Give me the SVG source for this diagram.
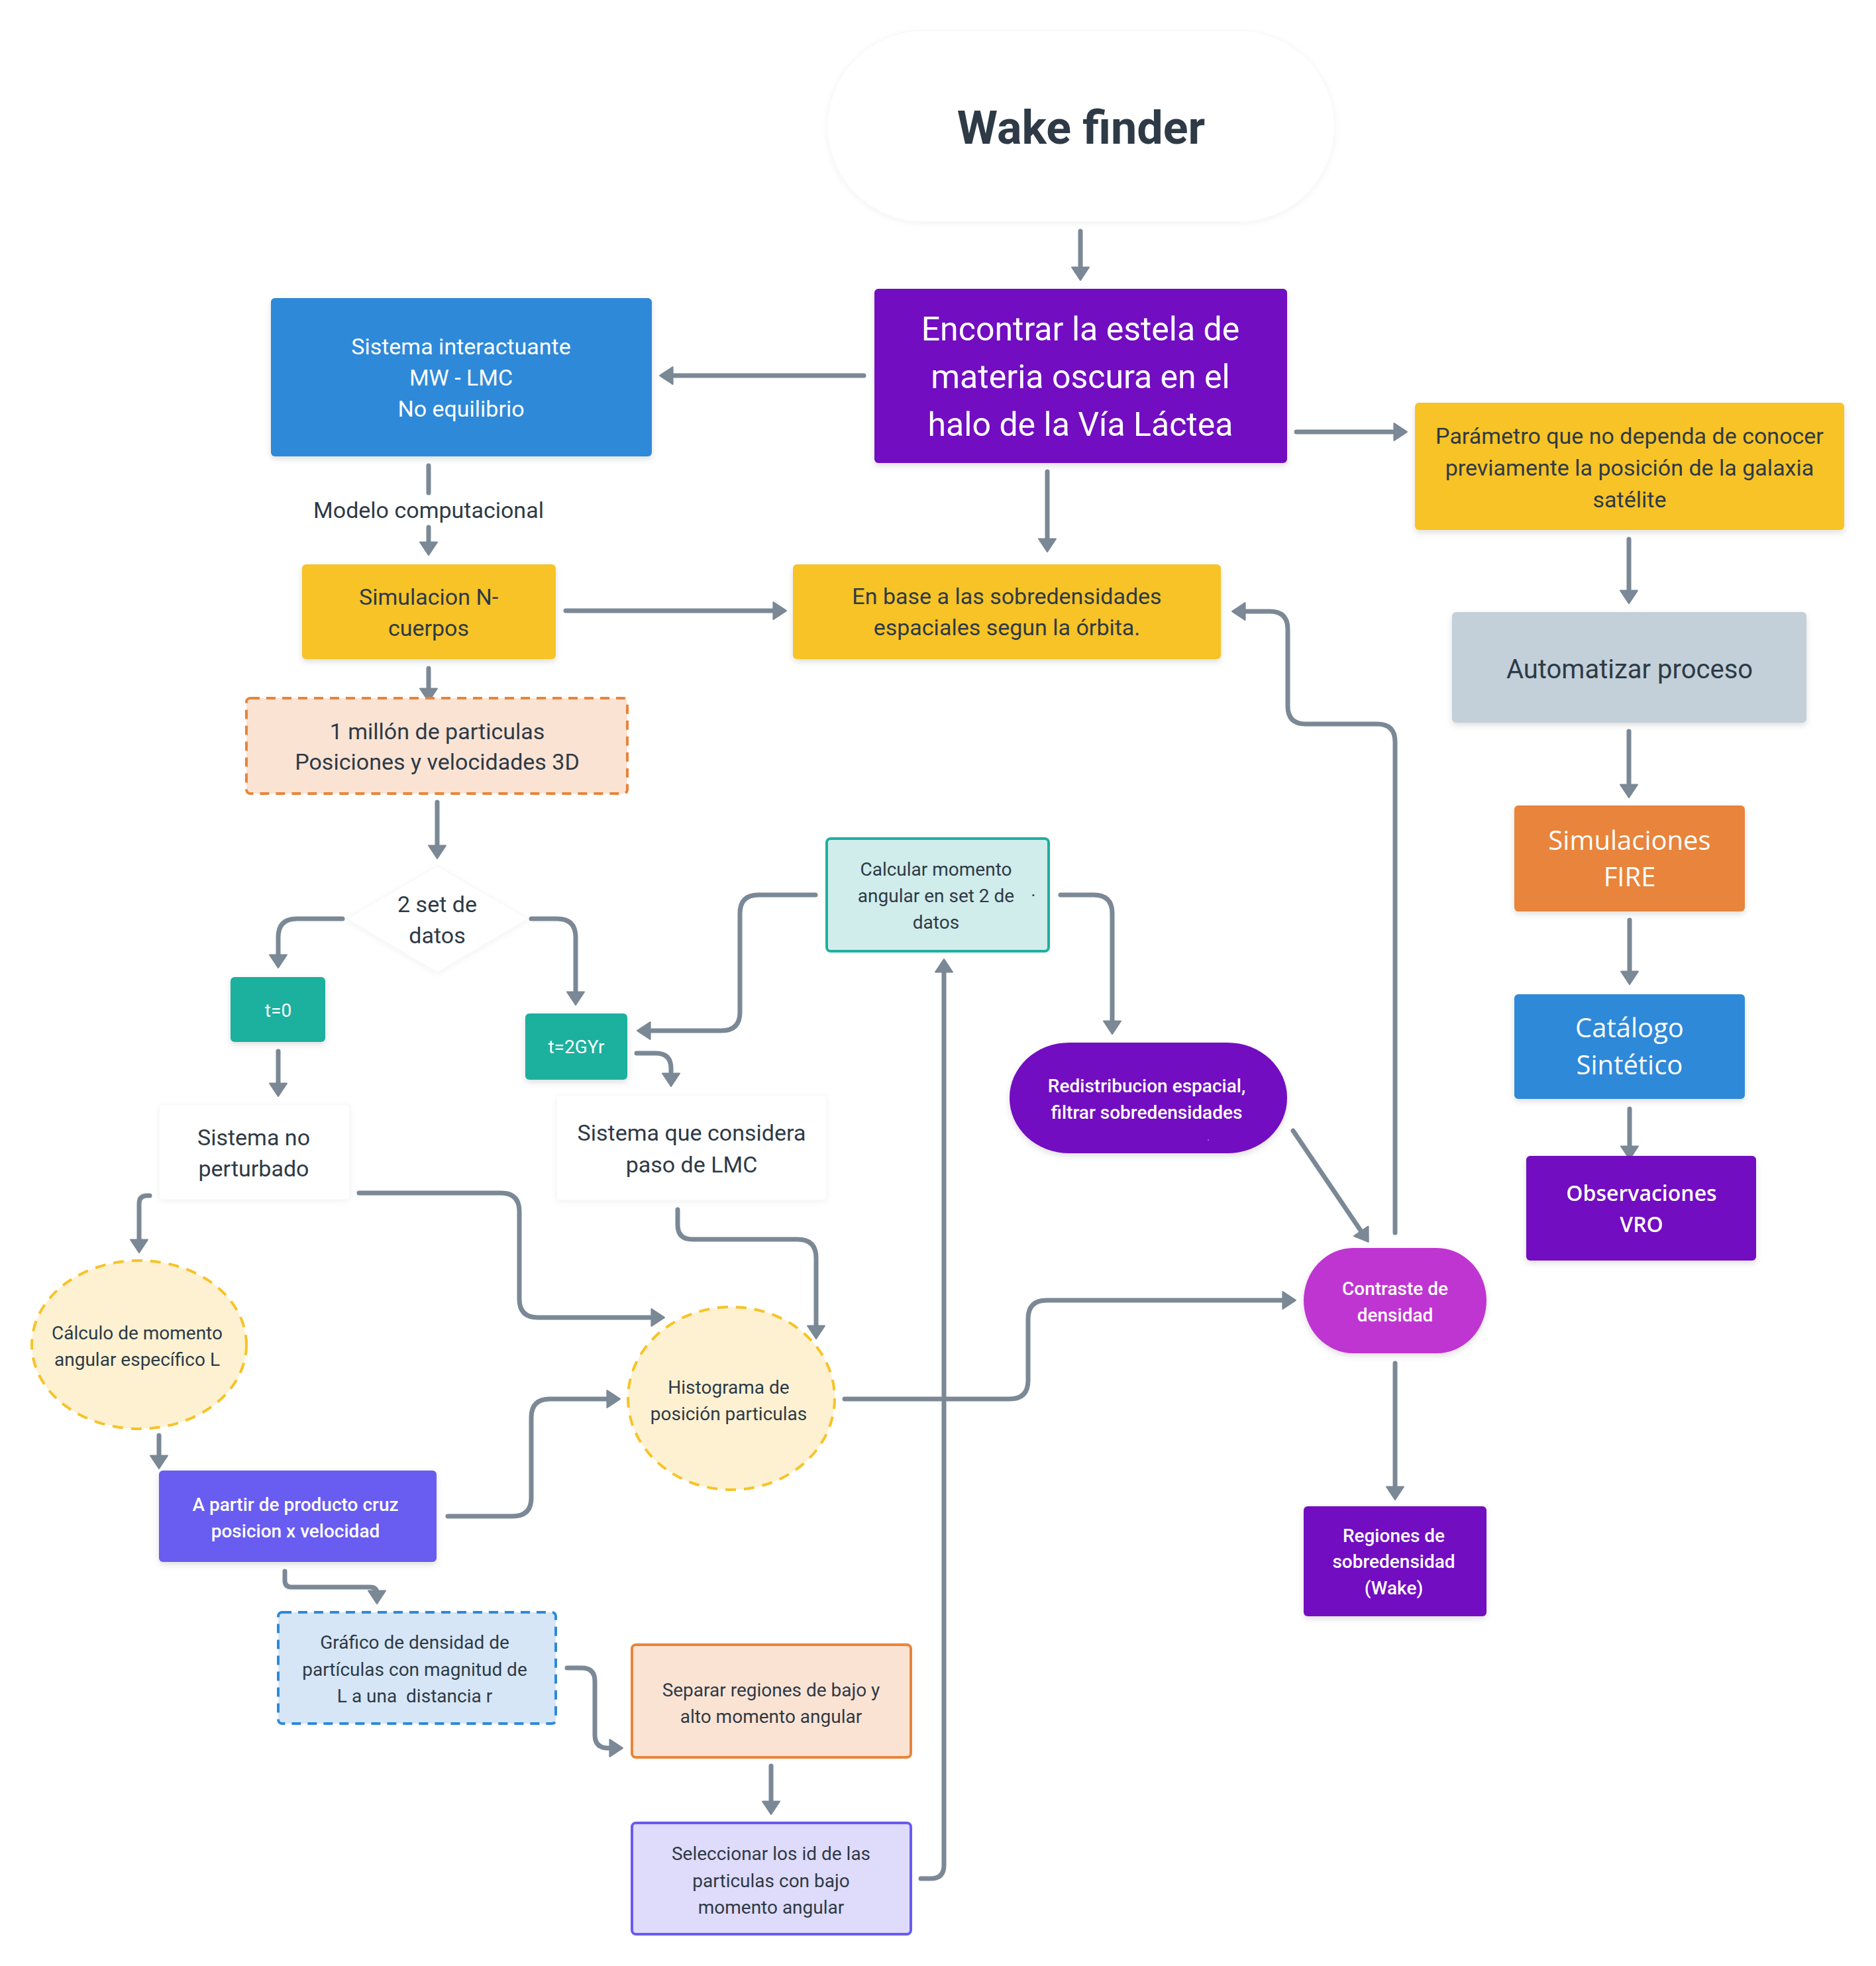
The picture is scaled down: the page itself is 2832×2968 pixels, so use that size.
<svg xmlns="http://www.w3.org/2000/svg" width="2832" height="2968" viewBox="0 0 2832 2968">
<defs>
<style>
.c{fill:none;stroke:#7b8896;stroke-width:7;stroke-linecap:round;stroke-linejoin:round}
.a{marker-end:url(#ah)}
.t{font-family:Roboto,"Liberation Sans",sans-serif;text-anchor:middle}
.o{font-family:"Open Sans","Liberation Sans",sans-serif;text-anchor:middle}
.dk{fill:#2e3a46}
.wh{fill:#ffffff}
.f34{font-size:34px}
.f28{font-size:28px}
.m{font-weight:500}
</style>
<marker id="ah" markerUnits="userSpaceOnUse" markerWidth="22" markerHeight="28" viewBox="0 0 20 26" refX="8" refY="13" orient="auto" overflow="visible">
<path d="M1,1 L19,13 L1,25 Z" fill="#7b8896" stroke="#7b8896" stroke-width="2" stroke-linejoin="round"/>
</marker>
<filter id="sh" x="-10%" y="-10%" width="120%" height="130%">
<feDropShadow dx="0" dy="4" stdDeviation="5" flood-color="#000" flood-opacity="0.13"/>
</filter>
<filter id="shl" x="-10%" y="-10%" width="120%" height="130%">
<feDropShadow dx="0" dy="2" stdDeviation="4" flood-color="#000" flood-opacity="0.05"/>
</filter>
</defs>
<rect width="2832" height="2968" fill="#ffffff"/>

<g id="connectors">
<path class="c a" d="M1631,349 V411"/>
<path class="c a" d="M1304,567 H1008"/>
<path class="c" d="M647,703 V744"/>
<path class="c a" d="M647,796 V826"/>
<path class="c a" d="M854,922 H1175"/>
<path class="c a" d="M1581,712 V821"/>
<path class="c a" d="M1957,652 H2112"/>
<path class="c a" d="M2459,814 V899"/>
<path class="c a" d="M2459,1104 V1192"/>
<path class="c a" d="M2460,1389 V1474"/>
<path class="c a" d="M2460,1674 V1738"/>
<path class="c a" d="M647,1009 V1047"/>
<path class="c a" d="M660,1211 V1284"/>
<path class="c a" d="M517,1387 H448 Q420,1387 420,1415 V1449"/>
<path class="c a" d="M802,1387 H841 Q869,1387 869,1415 V1505"/>
<path class="c a" d="M420,1587 V1643"/>
<path class="c a" d="M961,1590 H990 Q1013,1590 1013,1613 V1628"/>
<path class="c a" d="M1231,1351 H1145 Q1117,1351 1117,1379 V1528 Q1117,1556 1089,1556 H974"/>
<path class="c a" d="M1601,1351 H1651 Q1679,1351 1679,1379 V1549"/>
<path class="c a" d="M1390,2836 H1405 Q1425,2836 1425,2816 V1460"/>
<path class="c a" d="M1952,1707 L2059,1865"/>
<path class="c a" d="M2106,1861 V1120 Q2106,1093 2079,1093 H1971 Q1944,1093 1944,1066 V950 Q1944,923 1917,923 H1872"/>
<path class="c a" d="M2106,2058 V2252"/>
<path class="c a" d="M226,1805 H222 Q210,1805 210,1817 V1879"/>
<path class="c a" d="M542,1801 H756 Q784,1801 784,1829 V1961 Q784,1989 812,1989 H991"/>
<path class="c a" d="M1023,1826 V1849 Q1023,1871 1045,1871 H1204 Q1232,1871 1232,1899 V2009"/>
<path class="c a" d="M1275,2112 H1524 Q1552,2112 1552,2084 V1991 Q1552,1963 1580,1963 H1944"/>
<path class="c a" d="M240,2167 V2205"/>
<path class="c a" d="M676,2289 H774 Q802,2289 802,2261 V2140 Q802,2112 830,2112 H924"/>
<path class="c a" d="M430,2372 V2386 Q430,2396 440,2396 H559 Q569,2396 569,2406 V2409"/>
<path class="c a" d="M856,2518 H878 Q898,2518 898,2538 V2619 Q898,2639 918,2639 H928"/>
<path class="c a" d="M1164,2666 V2727"/>
</g>

<g id="label-modelo">
<text class="t f34 dk" x="647" y="782">Modelo computacional</text>
</g>

<g id="wake-finder">
<rect x="1249" y="46" width="766" height="289" rx="145" ry="145" fill="#ffffff" stroke="#f7f8f9" stroke-width="1.5" filter="url(#shl)"/>
<text class="t dk" x="1632" y="217" font-size="70" font-weight="bold">Wake finder</text>
</g>

<g id="encontrar">
<rect x="1320" y="436" width="623" height="263" rx="6" fill="#7211c1" filter="url(#sh)"/>
<text class="t wh" font-size="50" x="1631" y="514">Encontrar la estela de</text>
<text class="t wh" font-size="50" x="1631" y="586">materia oscura en el</text>
<text class="t wh" font-size="50" x="1631" y="658">halo de la Vía Láctea</text>
</g>

<g id="sistema-interactuante">
<rect x="409" y="450" width="575" height="239" rx="6" fill="#2e89d9" filter="url(#sh)"/>
<text class="t f34 wh" x="696" y="535">Sistema interactuante</text>
<text class="t f34 wh" x="696" y="582">MW - LMC</text>
<text class="t f34 wh" x="696" y="629">No equilibrio</text>
</g>

<g id="simulacion-n">
<rect x="456" y="852" width="383" height="143" rx="6" fill="#f7c325" filter="url(#sh)"/>
<text class="t f34 dk" x="647" y="913">Simulacion N-</text>
<text class="t f34 dk" x="647" y="960">cuerpos</text>
</g>

<g id="en-base">
<rect x="1197" y="852" width="646" height="143" rx="6" fill="#f7c325" filter="url(#sh)"/>
<text class="t f34 dk" x="1520" y="912">En base a las sobredensidades</text>
<text class="t f34 dk" x="1520" y="959">espaciales segun la órbita.</text>
</g>

<g id="parametro">
<rect x="2136" y="608" width="648" height="192" rx="6" fill="#f7c325" filter="url(#sh)"/>
<text class="t f34 dk" x="2460" y="670">Parámetro que no dependa de conocer</text>
<text class="t f34 dk" x="2460" y="718">previamente la posición de la galaxia</text>
<text class="t f34 dk" x="2460" y="766">satélite</text>
</g>

<g id="automatizar">
<rect x="2192" y="924" width="535" height="167" rx="6" fill="#c3d0d9" filter="url(#sh)"/>
<text class="t dk" font-size="40" x="2460" y="1024">Automatizar proceso</text>
</g>

<g id="simulaciones-fire">
<rect x="2286" y="1216" width="348" height="160" rx="6" fill="#e8843a" filter="url(#sh)"/>
<text class="o wh" font-size="40" x="2460" y="1283">Simulaciones</text>
<text class="o wh" font-size="40" x="2460" y="1338">FIRE</text>
</g>

<g id="catalogo">
<rect x="2286" y="1501" width="348" height="158" rx="6" fill="#2e89d9" filter="url(#sh)"/>
<text class="o wh" font-size="40" x="2460" y="1566">Catálogo</text>
<text class="o wh" font-size="40" x="2460" y="1622">Sintético</text>
</g>

<g id="observaciones">
<rect x="2304" y="1745" width="347" height="158" rx="6" fill="#7211c1" filter="url(#sh)"/>
<text class="o wh" font-size="32" font-weight="600" x="2478" y="1813">Observaciones</text>
<text class="o wh" font-size="32" font-weight="600" x="2478" y="1860">VRO</text>
</g>

<g id="millon">
<rect x="372" y="1054" width="575" height="144" rx="6" fill="#fbe3d4" stroke="#e8843a" stroke-width="4" stroke-dasharray="14 10"/>
<text class="t f34 dk" x="660" y="1116">1 millón de particulas</text>
<text class="t f34 dk" x="660" y="1162">Posiciones y velocidades 3D</text>
</g>

<g id="dos-set">
<path d="M660,1307 L797,1387 L660,1468 L523,1387 Z" fill="#ffffff" stroke="#f7f8f9" stroke-width="1.5" stroke-linejoin="round" filter="url(#shl)"/>
<text class="t f34 dk" x="660" y="1377">2 set de</text>
<text class="t f34 dk" x="660" y="1424">datos</text>
</g>

<g id="t0">
<rect x="348" y="1475" width="143" height="98" rx="6" fill="#1cb09e" filter="url(#sh)"/>
<text class="t f28 wh" x="420" y="1535">t=0</text>
</g>

<g id="t2gyr">
<rect x="793" y="1530" width="154" height="100" rx="6" fill="#1cb09e" filter="url(#sh)"/>
<text class="t f28 wh" x="870" y="1590">t=2GYr</text>
</g>

<g id="sistema-no-perturbado">
<rect x="240" y="1667" width="288" height="144" rx="6" fill="#ffffff" stroke="#f7f8f9" stroke-width="1.5" filter="url(#shl)"/>
<text class="t f34 dk" x="383" y="1729">Sistema no</text>
<text class="t f34 dk" x="383" y="1776">perturbado</text>
</g>

<g id="sistema-lmc">
<rect x="840" y="1653" width="408" height="159" rx="6" fill="#ffffff" stroke="#f7f8f9" stroke-width="1.5" filter="url(#shl)"/>
<text class="t f34 dk" x="1044" y="1722">Sistema que considera</text>
<text class="t f34 dk" x="1044" y="1770">paso de LMC</text>
</g>

<g id="calcular">
<rect x="1248" y="1266" width="335" height="170" rx="6" fill="#d0eceb" stroke="#1cb09e" stroke-width="4"/>
<text class="t f28 dk" x="1413" y="1322">Calcular momento</text>
<text class="t f28 dk" x="1413" y="1362">angular en set 2 de</text>
<text class="t f28 dk" x="1413" y="1402">datos</text>
<text class="t f28 dk" x="1560" y="1361">·</text>
</g>

<g id="redistribucion">
<rect x="1524" y="1574" width="419" height="167" rx="90" ry="83" fill="#7211c1" filter="url(#sh)"/>
<text class="t f28 wh m" x="1731" y="1649">Redistribucion espacial,</text>
<text class="t f28 wh m" x="1731" y="1689">filtrar sobredensidades</text>
<text class="t wh" font-size="16" fill-opacity="0.5" x="1824" y="1722">.</text>
</g>

<g id="contraste">
<rect x="1968" y="1884" width="276" height="159" rx="75" ry="80" fill="#bf35d1" filter="url(#sh)"/>
<text class="t f28 wh m" x="2106" y="1955">Contraste de</text>
<text class="t f28 wh m" x="2106" y="1995">densidad</text>
</g>

<g id="regiones">
<rect x="1968" y="2274" width="276" height="166" rx="6" fill="#7211c1" filter="url(#sh)"/>
<text class="t f28 wh m" x="2104" y="2328">Regiones de</text>
<text class="t f28 wh m" x="2104" y="2367">sobredensidad</text>
<text class="t f28 wh m" x="2104" y="2407">(Wake)</text>
</g>

<g id="histograma">
<ellipse cx="1104" cy="2111" rx="156" ry="138" fill="#fdf1d2" stroke="#f7c325" stroke-width="4" stroke-dasharray="16 12"/>
<text class="t f28 dk" x="1100" y="2104">Histograma de</text>
<text class="t f28 dk" x="1100" y="2144">posición particulas</text>
</g>

<g id="calculo-momento">
<ellipse cx="210" cy="2030" rx="162" ry="127" fill="#fdf1d2" stroke="#f7c325" stroke-width="4" stroke-dasharray="16 12"/>
<text class="t f28 dk" x="207" y="2022">Cálculo de momento</text>
<text class="t f28 dk" x="207" y="2062">angular específico L</text>
</g>

<g id="a-partir">
<rect x="240" y="2220" width="419" height="138" rx="6" fill="#695bf0" filter="url(#sh)"/>
<text class="t f28 wh m" x="446" y="2281">A partir de producto cruz</text>
<text class="t f28 wh m" x="446" y="2321">posicion x velocidad</text>
</g>

<g id="grafico">
<rect x="420" y="2434" width="419" height="168" rx="6" fill="#d6e6f6" stroke="#2e89d9" stroke-width="4" stroke-dasharray="14 10"/>
<text class="t f28 dk" x="626" y="2489">Gráfico de densidad de</text>
<text class="t f28 dk" x="626" y="2530">partículas con magnitud de</text>
<text class="t f28 dk" x="626" y="2570" xml:space="preserve">L a una  distancia r</text>
</g>

<g id="separar">
<rect x="954" y="2483" width="421" height="170" rx="6" fill="#fbe3d4" stroke="#e8843a" stroke-width="4"/>
<text class="t f28 dk" x="1164" y="2561">Separar regiones de bajo y</text>
<text class="t f28 dk" x="1164" y="2601">alto momento angular</text>
</g>

<g id="seleccionar">
<rect x="954" y="2752" width="421" height="168" rx="6" fill="#dfdbfb" stroke="#695bf0" stroke-width="4"/>
<text class="t f28 dk" x="1164" y="2808">Seleccionar los id de las</text>
<text class="t f28 dk" x="1164" y="2849">particulas con bajo</text>
<text class="t f28 dk" x="1164" y="2889">momento angular</text>
</g>
</svg>
